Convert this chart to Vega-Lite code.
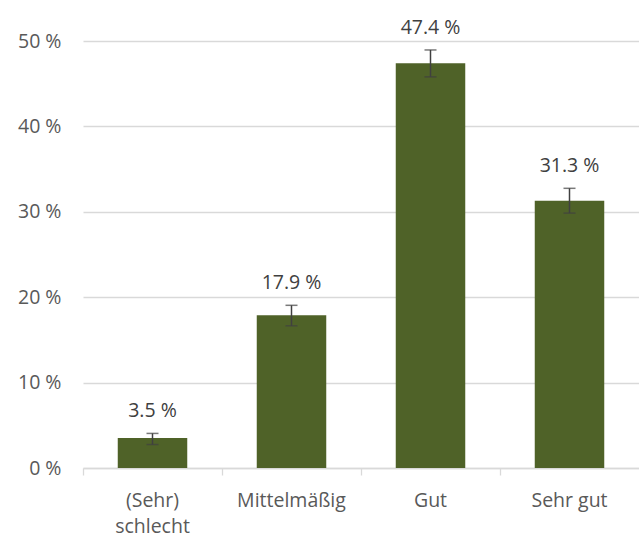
{
  "$schema": "https://vega.github.io/schema/vega-lite/v6.json",
  "width": 556,
  "height": 427,
  "autosize": {"type": "none"},
  "padding": {"left": 83, "top": 41, "right": 0, "bottom": 69},
  "background": "white",
  "config": {
    "view": {"stroke": null},
    "font": "Open Sans"
  },
  "data": {
    "values": [
      {"kategorie": "(Sehr) schlecht", "anteil": 3.5, "low": 2.75, "high": 4.05, "label": "3.5 %"},
      {"kategorie": "Mittelmäßig", "anteil": 17.9, "low": 16.65, "high": 19.05, "label": "17.9 %"},
      {"kategorie": "Gut", "anteil": 47.4, "low": 45.8, "high": 48.95, "label": "47.4 %"},
      {"kategorie": "Sehr gut", "anteil": 31.3, "low": 29.85, "high": 32.75, "label": "31.3 %"}
    ]
  },
  "encoding": {
    "x": {
      "field": "kategorie",
      "type": "nominal",
      "sort": null,
      "scale": {"paddingInner": 0.5, "paddingOuter": 0.25},
      "axis": {
        "title": null,
        "labelAngle": 0,
        "bandPosition": -0.5,
        "labelExpr": "datum.label == '(Sehr) schlecht' ? ['(Sehr)', 'schlecht'] : datum.label",
        "labelLineHeight": 26,
        "labelFontSize": 19.5,
        "labelColor": "#595959",
        "labelPadding": 16,
        "domainColor": "#d9d9d9",
        "domainWidth": 1.3,
        "tickColor": "#d9d9d9",
        "tickWidth": 1.3,
        "tickSize": 7,
        "grid": false
      }
    }
  },
  "layer": [
    {
      "mark": {"type": "bar", "color": "#4f6228"},
      "encoding": {
        "y": {
          "field": "anteil",
          "type": "quantitative",
          "scale": {"domain": [0, 50], "nice": false},
          "axis": {
            "title": null,
            "values": [0, 10, 20, 30, 40, 50],
            "labelExpr": "datum.value + ' %'",
            "labelFontSize": 19.5,
            "labelColor": "#595959",
            "labelPadding": 22,
            "domain": false,
            "ticks": false,
            "grid": true,
            "gridColor": "#d9d9d9",
            "gridWidth": 1.3
          }
        }
      }
    },
    {
      "mark": {"type": "rule", "color": "#404040", "strokeWidth": 1.5},
      "encoding": {
        "y": {"field": "low", "type": "quantitative"},
        "y2": {"field": "high"}
      }
    },
    {
      "mark": {"type": "tick", "color": "#404040", "thickness": 1.5, "size": 12, "orient": "horizontal"},
      "encoding": {
        "y": {"field": "low", "type": "quantitative"}
      }
    },
    {
      "mark": {"type": "tick", "color": "#404040", "thickness": 1.5, "size": 12, "orient": "horizontal"},
      "encoding": {
        "y": {"field": "high", "type": "quantitative"}
      }
    },
    {
      "mark": {"type": "text", "fontSize": 19.5, "color": "#404040", "baseline": "alphabetic", "dy": -16},
      "encoding": {
        "y": {"field": "high", "type": "quantitative"},
        "text": {"field": "label"}
      }
    }
  ]
}
